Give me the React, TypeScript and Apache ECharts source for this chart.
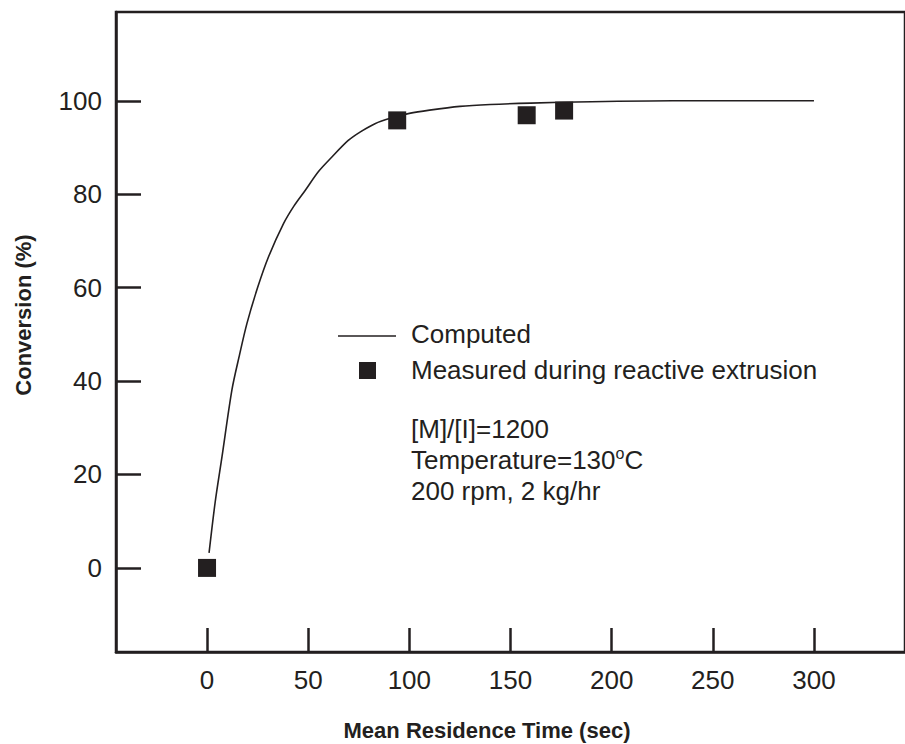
import React, { useEffect, useRef } from "react";
import * as echarts from "echarts";

const xTicks = [0, 50, 100, 150, 200, 250, 300];
const yTicks = [0, 20, 40, 60, 80, 100];

// Computed curve
const computedT = [1, 4, 7.4, 12.3, 16, 19.7, 25, 30.4, 37.8, 43, 48.5, 55, 61.6, 69.8, 76, 83, 91, 100, 110, 125, 140, 160, 190, 230, 300];
const computedY = [3.2, 14, 23.8, 38.1, 45.5, 52.3, 60, 66.6, 73.7, 77.5, 80.8, 84.8, 87.9, 91.5, 93.4, 95.1, 96.3, 97.3, 98, 98.8, 99.2, 99.5, 99.8, 100, 100];

// Measured during reactive extrusion
const measuredT = [0, 94, 158, 176.5];
const measuredY = [0, 95.8, 96.9, 97.9];

const INK = "#231f20";
const FONT = "'Liberation Sans', Arial, Helvetica, sans-serif";

export default function App() {
  const ref = useRef<HTMLDivElement>(null);
  useEffect(() => {
    if (!ref.current) return;
    const chart = echarts.init(ref.current, null, { renderer: "svg" });
    chart.setOption({
      animation: false,
      backgroundColor: "#ffffff",
      textStyle: { fontFamily: FONT, color: INK },
      grid: {
        left: 116,
        top: 12,
        width: 791,
        height: 640,
        show: true,
        borderColor: INK,
        borderWidth: 2.5,
        backgroundColor: "transparent",
      },
      xAxis: {
        type: "value",
        min: -45,
        max: 345,
        axisLine: { show: true, onZero: false, lineStyle: { color: INK, width: 2.5 } },
        axisTick: {
          show: true,
          inside: true,
          length: 24,
          customValues: xTicks,
          lineStyle: { color: INK, width: 2.5 },
        },
        axisLabel: {
          customValues: xTicks,
          fontSize: 26,
          fontFamily: FONT,
          color: INK,
          margin: 15,
        },
        splitLine: { show: false },
      },
      yAxis: {
        type: "value",
        min: -18,
        max: 119,
        axisLine: { show: true, onZero: false, lineStyle: { color: INK, width: 2.5 } },
        axisTick: {
          show: true,
          inside: true,
          length: 25,
          customValues: yTicks,
          lineStyle: { color: INK, width: 2.5 },
        },
        axisLabel: {
          customValues: yTicks,
          fontSize: 26,
          fontFamily: FONT,
          color: INK,
          margin: 14,
        },
        splitLine: { show: false },
      },
      series: [
        {
          name: "Computed",
          type: "line",
          data: computedT.map((t, i) => [t, computedY[i]]),
          smooth: 0.3,
          showSymbol: false,
          lineStyle: { color: INK, width: 1.6 },
          z: 2,
        },
        {
          name: "Measured during reactive extrusion",
          type: "scatter",
          data: measuredT.map((t, i) => [t, measuredY[i]]),
          symbol: "rect",
          symbolSize: 18,
          itemStyle: { color: INK, opacity: 1 },
          z: 3,
        },
      ],
      graphic: [
        {
          type: "text",
          x: 487,
          y: 730,
          style: {
            text: "Mean Residence Time (sec)",
            font: `bold 22px ${FONT}`,
            fill: INK,
            textAlign: "center",
            textVerticalAlign: "middle",
          },
        },
        {
          type: "text",
          x: 23,
          y: 315,
          rotation: Math.PI / 2,
          style: {
            text: "Conversion (%)",
            font: `bold 22px ${FONT}`,
            fill: INK,
            textAlign: "center",
            textVerticalAlign: "middle",
          },
        },
        {
          type: "line",
          shape: { x1: 338, y1: 336, x2: 396, y2: 336 },
          style: { stroke: INK, lineWidth: 1.5 },
        },
        {
          type: "text",
          x: 411,
          y: 334,
          style: {
            text: "Computed",
            font: `26px ${FONT}`,
            fill: INK,
            textAlign: "left",
            textVerticalAlign: "middle",
          },
        },
        {
          type: "rect",
          shape: { x: 359, y: 362, width: 17, height: 17 },
          style: { fill: INK },
        },
        {
          type: "text",
          x: 411,
          y: 370,
          style: {
            text: "Measured during reactive extrusion",
            font: `26px ${FONT}`,
            fill: INK,
            textAlign: "left",
            textVerticalAlign: "middle",
          },
        },
        {
          type: "text",
          x: 411,
          y: 429,
          style: {
            text: "[M]/[I]=1200",
            font: `26px ${FONT}`,
            fill: INK,
            textAlign: "left",
            textVerticalAlign: "middle",
          },
        },
        {
          type: "text",
          x: 411,
          y: 460,
          style: {
            text: "{a|Temperature=130}{s|o}{a|C}",
            fill: INK,
            textAlign: "left",
            textVerticalAlign: "middle",
            rich: {
              a: { fontSize: 26, fontFamily: FONT, lineHeight: 30, fill: INK, color: INK },
              s: { fontSize: 16, fontFamily: FONT, lineHeight: 16, verticalAlign: "top", fill: INK, color: INK },
            },
          },
        },
        {
          type: "text",
          x: 411,
          y: 491,
          style: {
            text: "200 rpm, 2 kg/hr",
            font: `26px ${FONT}`,
            fill: INK,
            textAlign: "left",
            textVerticalAlign: "middle",
          },
        },
      ],
    });
    return () => chart.dispose();
  }, []);
  return (
    <div
      ref={ref}
      style={{ position: "absolute", left: 0, top: 0, width: 905, height: 744, overflow: "hidden" }}
    />
  );
}
